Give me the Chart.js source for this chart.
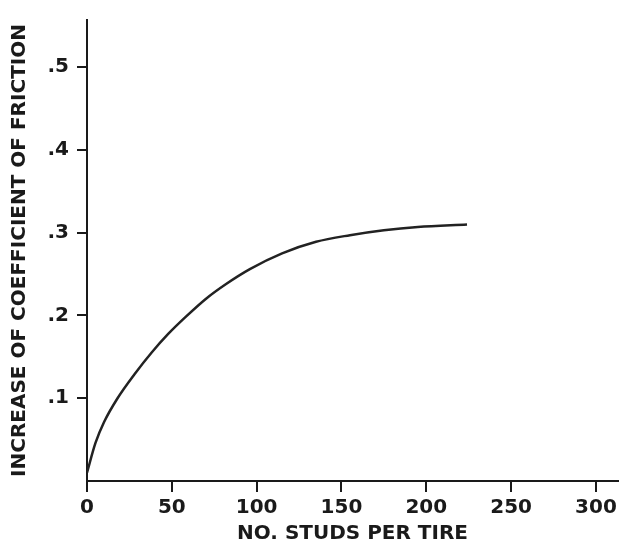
<!DOCTYPE html>
<html>
<head>
<meta charset="utf-8">
<script src="https://cdn.jsdelivr.net/npm/chart.js@4/dist/chart.umd.min.js"></script>
<style>
html, body { margin: 0; padding: 0; background: #fff; }
#wrap { width: 621px; height: 546px; }
</style>
</head>
<body>
<div id="wrap"><canvas id="c"></canvas></div>
<script>
// studs per tire vs. increase of friction coefficient
const studs = [0, 5, 10, 18, 28, 38, 48, 58, 70, 82, 96, 115, 135, 155, 175, 195, 224];
const friction = [0.010, 0.046, 0.071, 0.100, 0.129, 0.155, 0.178, 0.198, 0.220, 0.238, 0.256, 0.275, 0.289, 0.297, 0.303, 0.307, 0.310];
const xTicks = [0, 50, 100, 150, 200, 250, 300];
const yTicks = [0.1, 0.2, 0.3, 0.4, 0.5];

const ink = '#1a1a1a';
const font = 'DejaVu Sans';

new Chart(document.getElementById('c').getContext('2d'), {
type: 'line',
data: {
datasets: [{
data: studs.map((s, i) => ({ x: s, y: friction[i] })),
borderColor: '#222',
borderWidth: 2.5,
pointRadius: 0,
cubicInterpolationMode: 'monotone',
fill: false
}]
},
options: {
responsive: true, maintainAspectRatio: false, animation: false,
layout: { padding: { top: 15, right: 3, left: 0, bottom: 0 } },
plugins: { legend: { display: false }, tooltip: { enabled: false } },
scales: {
x: {
type: 'linear', min: 0, max: 313,
afterBuildTicks: s => { s.ticks = xTicks.map(v => ({ value: v })); },
afterFit: s => { s.height = 65; },
grid: { drawOnChartArea: false, drawTicks: true, tickLength: 11, color: ink, lineWidth: 2 },
border: { color: ink, width: 2 },
ticks: { color: ink, padding: 4, font: { family: font, size: 20, weight: 'bold' } },
title: { display: true, text: 'NO. STUDS PER TIRE', color: ink, padding: 0,
font: { family: font, size: 20, weight: 'bold' } }
},
y: {
min: 0, max: 0.557,
afterBuildTicks: s => { s.ticks = yTicks.map(v => ({ value: v })); },
afterFit: s => { s.width = 87; },
grid: { drawOnChartArea: false, drawTicks: true, tickLength: 10, color: ink, lineWidth: 2 },
border: { color: ink, width: 2 },
ticks: { color: ink, padding: 8, font: { family: font, size: 20, weight: 'bold' },
callback: v => '.' + Math.round(v * 10) },
title: { display: true, text: 'INCREASE OF COEFFICIENT OF FRICTION', color: ink, padding: { top: 8, bottom: 0 },
font: { family: font, size: 20, weight: 'bold' } }
}
}
}
});
</script>
</body>
</html>
